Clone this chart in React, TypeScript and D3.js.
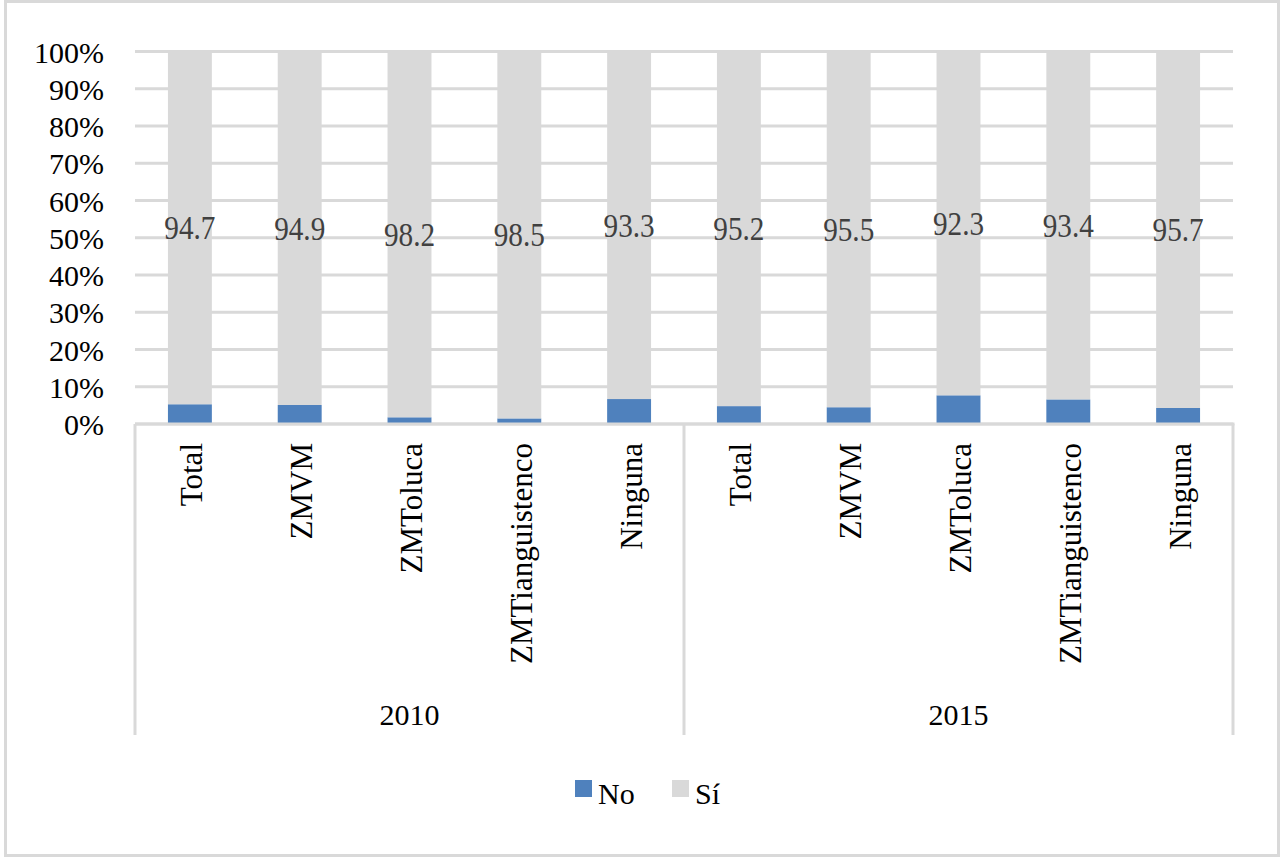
import React from "react";
import * as d3 from "d3";

const years = ["2010", "2015"];
const categories = ["Total", "ZMVM", "ZMToluca", "ZMTianguistenco", "Ninguna"];
const siValues2010 = [94.7, 94.9, 98.2, 98.5, 93.3];
const siValues2015 = [95.2, 95.5, 92.3, 93.4, 95.7];
const noValues2010 = [5.3, 5.1, 1.8, 1.5, 6.7];
const noValues2015 = [4.8, 4.5, 7.7, 6.6, 4.3];
const yTicks = [0, 10, 20, 30, 40, 50, 60, 70, 80, 90, 100];
const seriesNames = ["No", "Sí"];

const BLUE = "#4f81bd";
const GRAY = "#d9d9d9";

type Row = { key: string; year: string; cat: string; No: number; Sí: number };

const rows: Row[] = [];
years.forEach((yr, yi) => {
  const si = yi === 0 ? siValues2010 : siValues2015;
  const no = yi === 0 ? noValues2010 : noValues2015;
  categories.forEach((c, ci) => {
    rows.push({ key: yr + "-" + c, year: yr, cat: c, No: no[ci], Sí: si[ci] });
  });
});

export default function App() {
  const W = 1285;
  const H = 863;
  const left = 135;
  const right = 1233;
  const top = 51.5;
  const bottom = 424;

  const x = d3
    .scaleBand<string>()
    .domain(rows.map((r) => r.key))
    .range([left, right])
    .paddingInner(0.6)
    .paddingOuter(0.3);
  const step = x.step();
  const y = d3.scaleLinear().domain([0, 100]).range([bottom, top]);

  const stack = d3.stack<Row>().keys(seriesNames as any)((rows as any) as Row[]);
  const colors: Record<string, string> = { No: BLUE, "Sí": GRAY };

  const serif = "'Liberation Serif', 'Times New Roman', serif";
  const axisBottom = 735;

  return (
    <svg
      width={W}
      height={H}
      style={{ position: "absolute", left: 0, top: 0, background: "#fff" }}
    >
      <rect x={0} y={0} width={W} height={H} fill="#fff" />
      <rect x={5.5} y={1.5} width={1273} height={854} fill="none" stroke={GRAY} strokeWidth={3} />

      {/* gridlines */}
      {yTicks.map((t) => (
        <line key={"g" + t} x1={left} x2={right} y1={y(t)} y2={y(t)} stroke={GRAY} strokeWidth={3} />
      ))}

      {/* bars */}
      {stack.map((s) => (
        <g key={s.key} fill={colors[s.key]}>
          {s.map((d: any) => (
            <rect
              key={d.data.key}
              x={x(d.data.key)}
              width={x.bandwidth()}
              y={y(d[1])}
              height={y(d[0]) - y(d[1])}
            />
          ))}
        </g>
      ))}

      {/* value labels for Sí */}
      {stack[1].map((d: any) => {
        const cx = (x(d.data.key) as number) + x.bandwidth() / 2;
        const cy = (y(d[0]) + y(d[1])) / 2;
        return (
          <g key={"v" + d.data.key} transform={`translate(${cx},${cy + 11.5}) scale(0.86,1)`}>
            <text textAnchor="middle" fontFamily={serif} fontSize={34} fill="#404040">
              {d.data["Sí"].toFixed(1)}
            </text>
          </g>
        );
      })}

      {/* y tick labels */}
      {yTicks.map((t) => (
        <text
          key={"t" + t}
          x={104}
          y={y(t) + 11}
          textAnchor="end"
          fontFamily={serif}
          fontSize={30}
          fill="#000"
        >
          {t + "%"}
        </text>
      ))}

      {/* x axis box */}
      <line x1={left} x2={right + 1.5} y1={bottom} y2={bottom} stroke={GRAY} strokeWidth={3} />
      {[0, 1, 2].map((i) => {
        const xx = left + i * step * categories.length;
        return <line key={"v" + i} x1={xx} x2={xx} y1={bottom} y2={axisBottom} stroke={GRAY} strokeWidth={3} />;
      })}

      {/* category labels */}
      {rows.map((r) => {
        const cx = (x(r.key) as number) + x.bandwidth() / 2;
        return (
          <text
            key={"c" + r.key}
            transform={`translate(${cx},443) rotate(-90)`}
            textAnchor="end"
            dy="0.4em"
            fontFamily={serif}
            fontSize={31}
            fill="#000"
          >
            {r.cat}
          </text>
        );
      })}

      {/* year labels */}
      {years.map((yr, i) => {
        const cx = left + step * categories.length * (i + 0.5);
        return (
          <text key={"y" + yr} x={cx} y={725} textAnchor="middle" fontFamily={serif} fontSize={30} fill="#000">
            {yr}
          </text>
        );
      })}

      {/* legend */}
      <rect x={575} y={780} width={17} height={17} fill={BLUE} />
      <text x={598} y={804} fontFamily={serif} fontSize={30} fill="#000">
        {seriesNames[0]}
      </text>
      <rect x={672} y={780} width={17} height={17} fill={GRAY} />
      <text x={695} y={804} fontFamily={serif} fontSize={30} fill="#000">
        {seriesNames[1]}
      </text>
    </svg>
  );
}
